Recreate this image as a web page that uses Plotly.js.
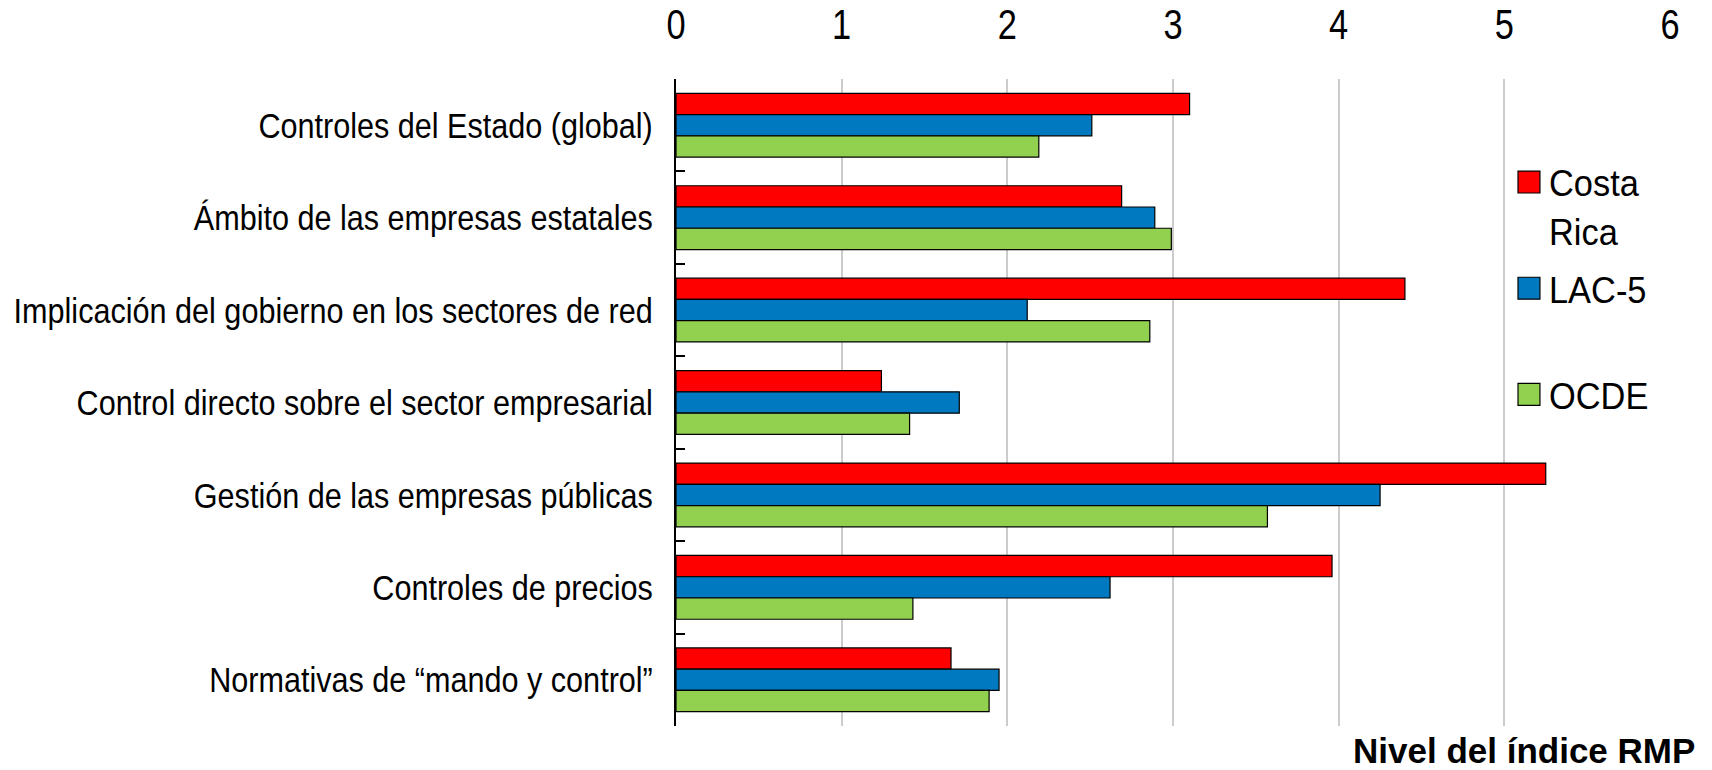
<!DOCTYPE html>
<html><head><meta charset="utf-8">
<script src="https://cdn.plot.ly/plotly-3.0.1.min.js"></script>
<style>html,body{margin:0;padding:0;background:#fff;}#chart{width:1712px;height:770px;}</style>
</head><body><div id="chart"></div>
<script>
const categories = [
  "Controles del Estado (global)",
  "Ámbito de las empresas estatales",
  "Implicación del gobierno en los sectores de red",
  "Control directo sobre el sector empresarial",
  "Gestión de las empresas públicas",
  "Controles de precios",
  "Normativas de “mando y control”"
];
const costaRica = [3.10, 2.69, 4.40, 1.24, 5.25, 3.96, 1.66];
const lac5      = [2.51, 2.89, 2.12, 1.71, 4.25, 2.62, 1.95];
const ocde      = [2.19, 2.99, 2.86, 1.41, 3.57, 1.43, 1.89];
const seriesNames = ["Costa<br>Rica", "LAC-5<br>\u00a0", "OCDE"];
const tickVals = [0, 1, 2, 3, 4, 5, 6];

const FONT = "'Liberation Sans', Arial, sans-serif";
const colors = ["#FF0000", "#0079C1", "#92D050"];
const data = [costaRica, lac5, ocde].map((vals, i) => ({
  type: "bar", orientation: "h",
  x: vals, y: categories, name: seriesNames[i],
  legendgroup: "g" + i,
  marker: {color: colors[i], line: {color: "#000", width: 1.2}},
  hoverinfo: "x+name"
}));

const layout = {
  width: 1712, height: 770,
  margin: {l: 676, r: 42, t: 79, b: 44},
  paper_bgcolor: "#fff", plot_bgcolor: "#fff",
  font: {family: FONT, size: 36, color: "#000"},
  barmode: "group", bargap: 0.31, bargroupgap: 0,
  xaxis: {
    side: "top", range: [0, 6], tickvals: tickVals, ticktext: tickVals.map(String),
    showgrid: true, gridcolor: "#CCCCCC", gridwidth: 2,
    zeroline: false, showline: false, ticks: "",
    ticklabelstandoff: 31,
    tickfont: {family: FONT, size: 42, color: "#000"}
  },
  yaxis: {
    autorange: "reversed", type: "category",
    showline: true, linecolor: "#000", linewidth: 2,
    ticks: "inside", tickson: "boundaries", ticklen: 9, tickwidth: 2, tickcolor: "#000",
    showgrid: false, zeroline: false,
    ticklabelstandoff: 14,
    tickfont: {family: FONT, size: 36, color: "#000"}
  },
  legend: {
    x: 0.838, xanchor: "left", y: 0.888, yanchor: "top",
    traceorder: "grouped", tracegroupgap: 7, valign: "top",
    bgcolor: "rgba(255,255,255,0)",
    font: {family: FONT, size: 37, color: "#000"},
    itemwidth: 30
  },
  annotations: [{
    text: "<b>Nivel del índice RMP</b>", xref: "paper", yref: "paper",
    x: 1.0265, xanchor: "right", y: -0.0375, yanchor: "middle", showarrow: false,
    borderpad: 0,
    font: {family: FONT, size: 35, color: "#000"}
  }]
};

function squeeze(sel, s) {
  document.querySelectorAll(sel).forEach(el => {
    const bb = el.getBBox();
    const anchor = el.getAttribute("text-anchor") || getComputedStyle(el).textAnchor;
    const ax = anchor === "end" ? bb.x + bb.width : anchor === "middle" ? bb.x + bb.width / 2 : bb.x;
    const t = el.getAttribute("transform") || "";
    el.setAttribute("transform", t + " translate(" + ax + ",0) scale(" + s + ",1) translate(" + (-ax) + ",0)");
  });
}

Plotly.newPlot("chart", data, layout, {displayModeBar: false, staticPlot: true}).then(() => {
  squeeze(".ytick text", 0.85);
  squeeze(".xtick text", 0.82);
  squeeze(".legendtext", 0.93);
  document.querySelectorAll(".legendpoints path").forEach(p => {
    const t = p.getAttribute("transform") || "";
    p.setAttribute("transform", t + " scale(1.83)");
    p.style.strokeWidth = "0.65px";
  });
});
</script></body></html>
